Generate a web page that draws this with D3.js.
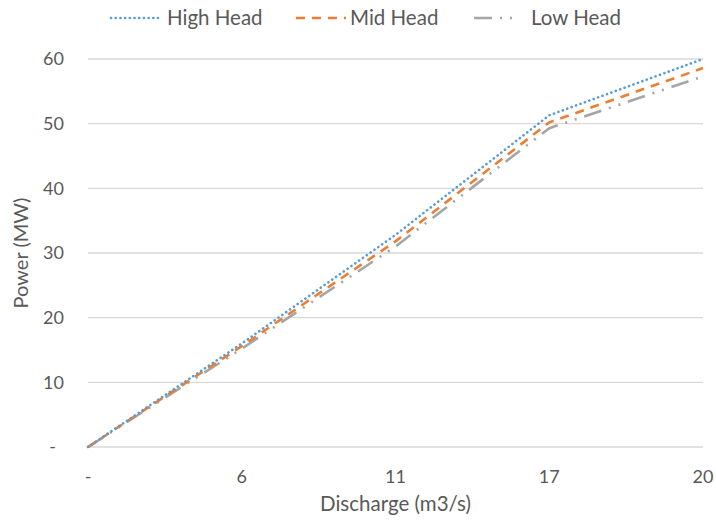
<!DOCTYPE html>
<html>
<head>
<meta charset="utf-8">
<script src="https://cdn.jsdelivr.net/npm/d3@7"></script>
<style>
  body { margin: 0; background: #fff; }
  text { font-family: Lato, "Open Sans", sans-serif; fill: #595959; }
</style>
</head>
<body>
<div id="chart"></div>
<script>
// categories on the x axis (Excel category axis, evenly spaced)
var categories = ["-", "6", "11", "17", "20"];

// power values (MW)
var highHead = [0, 16.0, 32.8, 51.3, 60.0];
var midHead  = [0, 15.6, 31.8, 50.2, 58.6];
var lowHead  = [0, 15.2, 31.0, 49.3, 57.3];

var seriesNames = ["High Head", "Mid Head", "Low Head"];
var yTicks = [0, 10, 20, 30, 40, 50, 60];

var width = 716, height = 520;
var margin = {top: 59, right: 13, bottom: 73, left: 88};

var svg = d3.select("#chart").append("svg")
    .attr("width", width)
    .attr("height", height);

var x = d3.scalePoint()
    .domain(categories)
    .range([margin.left, width - margin.right]);

var y = d3.scaleLinear()
    .domain([0, 60])
    .range([height - margin.bottom, margin.top]);

// gridlines
svg.append("g").selectAll("line")
    .data(yTicks)
    .enter().append("line")
    .attr("x1", margin.left)
    .attr("x2", width - margin.right)
    .attr("y1", function(d) { return y(d); })
    .attr("y2", function(d) { return y(d); })
    .attr("stroke", "#d9d9d9")
    .attr("stroke-width", 1.3);

// y tick labels
svg.append("g").selectAll("text")
    .data(yTicks)
    .enter().append("text")
    .attr("x", function(d) { return d === 0 ? 56 : 64; })
    .attr("y", function(d) { return y(d); })
    .attr("dy", "0.35em")
    .attr("text-anchor", "end")
    .style("font-size", "18px")
    .text(function(d) { return d === 0 ? "-" : d; });

// x tick labels
svg.append("g").selectAll("text")
    .data(categories)
    .enter().append("text")
    .attr("x", function(d) { return x(d); })
    .attr("y", 477)
    .attr("dy", "0.35em")
    .attr("text-anchor", "middle")
    .style("font-size", "18px")
    .text(function(d) { return d; });

// axis titles
svg.append("text")
    .attr("x", (margin.left + width - margin.right) / 2)
    .attr("y", 504)
    .attr("dy", "0.35em")
    .attr("text-anchor", "middle")
    .style("font-size", "20.5px")
    .text("Discharge (m3/s)");

svg.append("text")
    .attr("transform", "translate(21," + ((margin.top + height - margin.bottom) / 2) + ") rotate(-90)")
    .attr("dy", "0.35em")
    .attr("text-anchor", "middle")
    .style("font-size", "20px")
    .text("Power (MW)");

// line styles
var styles = [
    {color: "#5b9bd5", dash: "0.1,4.6", cap: "round"},
    {color: "#ed7d31", dash: "9,7", cap: "butt"},
    {color: "#a5a5a5", dash: "18,8,2,8,2,8", cap: "butt"}
];
var allSeries = [highHead, midHead, lowHead];

var line = d3.line()
    .x(function(d, i) { return x(categories[i]); })
    .y(function(d) { return y(d); });

// draw low first so high sits on top
[2, 1, 0].forEach(function(k) {
    svg.append("path")
        .datum(allSeries[k])
        .attr("d", line)
        .attr("fill", "none")
        .attr("stroke", styles[k].color)
        .attr("stroke-width", 2.6)
        .attr("stroke-dasharray", styles[k].dash)
        .attr("stroke-linecap", styles[k].cap)
        .attr("stroke-linejoin", "round");
});

// legend
var legendPos = [
    {x1: 111, x2: 158, tx: 167},
    {x1: 296, x2: 346, tx: 350},
    {x1: 474, x2: 520, tx: 531}
];
var legend = svg.append("g");
seriesNames.forEach(function(name, k) {
    legend.append("line")
        .attr("x1", legendPos[k].x1)
        .attr("x2", legendPos[k].x2)
        .attr("y1", 18)
        .attr("y2", 18)
        .attr("stroke", styles[k].color)
        .attr("stroke-width", 2.6)
        .attr("stroke-dasharray", styles[k].dash)
        .attr("stroke-linecap", styles[k].cap);
    legend.append("text")
        .attr("x", legendPos[k].tx)
        .attr("y", 18)
        .attr("dy", "0.35em")
        .style("font-size", "20.5px")
        .text(name);
});
</script>
</body>
</html>
